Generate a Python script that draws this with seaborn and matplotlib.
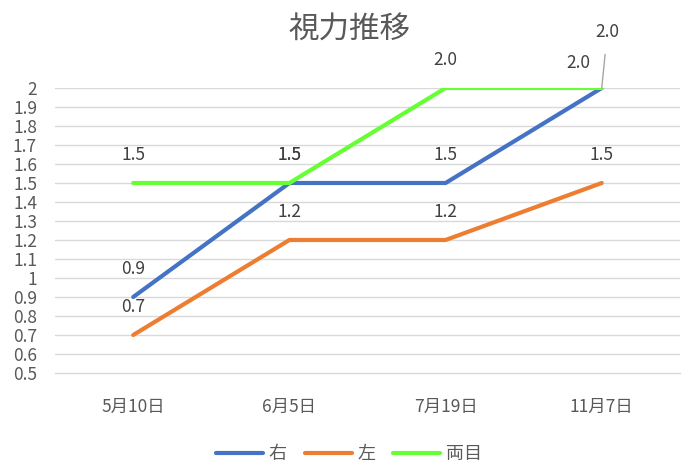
import numpy as np
import pandas as pd
import matplotlib
matplotlib.use("Agg")
import matplotlib.pyplot as plt
from matplotlib.lines import Line2D
import seaborn as sns

# data
dates = ["5月10日", "6月5日", "7月19日", "11月7日"]
right_eye = [0.9, 1.5, 1.5, 2.0]
left_eye = [0.7, 1.2, 1.2, 1.5]
both_eyes = [1.5, 1.5, 2.0, 2.0]
series_names = ["右", "左", "両目"]
y_ticks = [round(0.5 + 0.1 * i, 1) for i in range(16)]

colors = {"右": "#4472C4", "左": "#ED7D31", "両目": "#66FF33"}

sns.set_style("white")
plt.rcParams['font.family'] = ['Noto Sans CJK JP', 'DejaVu Sans']

df = pd.DataFrame({
    'date': dates * 3,
    'value': right_eye + left_eye + both_eyes,
    'series': [s for s in series_names for _ in dates],
})
df['pos'] = df['date'].map({d: i for i, d in enumerate(dates)})

fig = plt.figure(figsize=(6.98, 4.73), dpi=100)
ax = fig.add_axes([0.079, 0.2114, 0.895, 0.6026])

# gridlines first
for v in y_ticks[1:]:
    ax.axhline(v, color='#D9D9D9', lw=1.0, zorder=0)

sns.lineplot(data=df, x='pos', y='value', hue='series', palette=colors,
             hue_order=series_names, sort=False, lw=3.0, ax=ax,
             legend=False, solid_capstyle='round', zorder=3)

ax.set_xlim(-0.5, 3.5)
ax.set_ylim(0.5, 2.0)
ax.set_yticks(y_ticks)
ax.set_yticklabels([f"{v:g}" for v in y_ticks])
ax.set_xticks(range(len(dates)))
ax.set_xticklabels(dates)
ax.set_xticks(np.arange(-0.5, 3.6, 1.0), minor=True)
ax.tick_params(axis='x', which='major', length=0, pad=18, labelsize=12.5, colors='#595959')
ax.tick_params(axis='x', which='minor', length=6, width=1, color='#D9D9D9')
ax.tick_params(axis='y', length=0, pad=13, labelsize=12.5, colors='#595959')
ax.set_xlabel('')
ax.set_ylabel('')
for s in ['top', 'right', 'left']:
    ax.spines[s].set_visible(False)
ax.spines['bottom'].set_color('#D9D9D9')
ax.spines['bottom'].set_linewidth(1.0)

# data labels
lab_kw = dict(textcoords='offset points', ha='center', va='center',
              fontsize=12.5, color='#404040', annotation_clip=False)
for vals, name in [(left_eye, "左"), (right_eye, "右"), (both_eyes, "両目")]:
    for i, v in enumerate(vals):
        if name == "右" and i == 3:
            ax.annotate(f"{v:.1f}", (i, v), xytext=(4, 40),
                        arrowprops=dict(arrowstyle='-', color='#A6A6A6', lw=1,
                                        shrinkA=7, shrinkB=0), **lab_kw)
        elif name == "両目" and i == 3:
            ax.annotate(f"{v:.1f}", (i, v), xytext=(-17, 18), **lab_kw)
        else:
            ax.annotate(f"{v:.1f}", (i, v), xytext=(0, 20), **lab_kw)

fig.suptitle("視力推移", x=0.5, y=0.97, fontsize=22, color='#595959')

handles = [Line2D([0], [0], color=colors[s], lw=3.0, solid_capstyle='round') for s in series_names]
fig.legend(handles, series_names, loc='center', bbox_to_anchor=(0.5, 0.04), ncol=3,
           frameon=False, fontsize=13, labelcolor='#595959', handlelength=2.6,
           columnspacing=1.0, handletextpad=0.3)

fig.savefig('out.png', dpi=100)
